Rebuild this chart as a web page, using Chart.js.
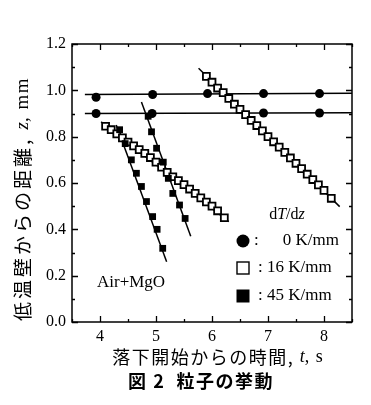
<!DOCTYPE html>
<html>
<head>
<meta charset="utf-8">
<script src="https://cdn.jsdelivr.net/npm/chart.js@4.4.0/dist/chart.umd.min.js"></script>
<style>
  html, body { margin: 0; padding: 0; background: #fff; }
</style>
</head>
<body>
<canvas id="myChart" width="371" height="405"></canvas>
<script>
// axis ticks
const xTicks = [4, 5, 6, 7, 8];
const xMinorTicks = [3.5, 4.5, 5.5, 6.5, 7.5, 8.5];
const yTicks = [0, 0.2, 0.4, 0.6, 0.8, 1.0, 1.2];
const yMinorTicks = [0.1, 0.3, 0.5, 0.7, 0.9, 1.1];

// dT/dz = 0 K/mm (two particles)
const t0a = [3.93, 4.94, 5.92, 6.92, 7.92];
const z0a = [0.970, 0.982, 0.986, 0.986, 0.986];
const t0b = [3.93, 4.93, 6.92, 7.92];
const z0b = [0.900, 0.900, 0.902, 0.902];
const fit0aT = [3.73, 8.5], fit0aZ = [0.982, 0.987];
const fit0bT = [3.73, 8.5], fit0bZ = [0.900, 0.903];

// dT/dz = 16 K/mm
const t16a = [4.1, 4.2, 4.3, 4.4, 4.5, 4.6, 4.7, 4.8, 4.9, 5.0, 5.1, 5.2, 5.3, 5.4, 5.5, 5.6, 5.7, 5.8, 5.9, 6.0, 6.1, 6.22];
const z16a = [0.845, 0.830, 0.812, 0.795, 0.777, 0.760, 0.744, 0.728, 0.710, 0.690, 0.668, 0.646, 0.627, 0.610, 0.593, 0.574, 0.555, 0.536, 0.518, 0.500, 0.480, 0.450];
const fit16aT = [4.02, 6.30], fit16aZ = [0.864, 0.433];
const t16b = [5.9, 6.0, 6.1, 6.2, 6.3, 6.4, 6.5, 6.6, 6.7, 6.8, 6.9, 7.0, 7.1, 7.2, 7.3, 7.4, 7.5, 7.6, 7.7, 7.8, 7.9, 8.0, 8.13];
const z16b = [1.060, 1.035, 1.010, 0.990, 0.965, 0.940, 0.918, 0.895, 0.870, 0.848, 0.825, 0.800, 0.778, 0.755, 0.732, 0.708, 0.685, 0.662, 0.638, 0.615, 0.592, 0.568, 0.534];
const fit16bT = [5.76, 8.28], fit16bZ = [1.095, 0.498];

// dT/dz = 45 K/mm
const t45a = [4.35, 4.45, 4.56, 4.65, 4.74, 4.83, 4.94, 5.02, 5.12];
const z45a = [0.830, 0.770, 0.700, 0.642, 0.585, 0.520, 0.455, 0.400, 0.318];
const fit45aT = [4.29, 5.19], fit45aZ = [0.85, 0.26];
const t45b = [4.86, 4.92, 5.01, 5.13, 5.22, 5.30, 5.42, 5.52];
const z45b = [0.888, 0.821, 0.750, 0.690, 0.620, 0.555, 0.505, 0.447];
const fit45bT = [4.74, 5.62], fit45bZ = [0.95, 0.37];

const pts = (t, z) => t.map((v, i) => ({ x: v, y: z[i] }));

const lineSet = (t, z) => ({
    data: pts(t, z), showLine: true, pointRadius: 0,
    borderColor: '#000', borderWidth: 1.5, order: 10
});
const circleSet = (t, z) => ({
    data: pts(t, z), pointStyle: 'circle', pointRadius: 4.5,
    backgroundColor: '#000', borderColor: '#000', borderWidth: 0, order: 1
});
const openSet = (t, z) => ({
    data: pts(t, z), pointStyle: 'rect', pointRadius: 4.9,
    backgroundColor: '#fff', borderColor: '#000', borderWidth: 1.8, order: 5
});
const filledSet = (t, z) => ({
    data: pts(t, z), pointStyle: 'rect', pointRadius: 4.8,
    backgroundColor: '#000', borderColor: '#000', borderWidth: 0, order: 3
});

const SERIF = '"Liberation Serif", "DejaVu Serif", serif';
const JP = '"Noto Sans CJK JP", sans-serif';

// draws frame, inward ticks, axis titles, legend and note
const decor = {
    id: 'decor',
    afterDraw(chart) {
        const ctx = chart.ctx;
        const a = chart.chartArea;
        const xs = chart.scales.x, ys = chart.scales.y;
        ctx.save();
        ctx.strokeStyle = '#000';
        ctx.lineWidth = 1.5;
        ctx.strokeRect(a.left, a.top, a.right - a.left, a.bottom - a.top);
        ctx.lineWidth = 1.3;
        ctx.beginPath();
        const tickX = (v, len) => {
            const p = Math.round(xs.getPixelForValue(v)) + 0.5;
            ctx.moveTo(p, a.bottom); ctx.lineTo(p, a.bottom - len);
            ctx.moveTo(p, a.top); ctx.lineTo(p, a.top + len);
        };
        const tickY = (v, len) => {
            const p = Math.round(ys.getPixelForValue(v)) + 0.5;
            ctx.moveTo(a.left, p); ctx.lineTo(a.left + len, p);
            ctx.moveTo(a.right, p); ctx.lineTo(a.right - len, p);
        };
        xTicks.forEach(v => tickX(v, 6));
        xMinorTicks.forEach(v => tickX(v, 3));
        yTicks.forEach(v => tickY(v, 6));
        yMinorTicks.forEach(v => tickY(v, 3));
        ctx.stroke();

        ctx.fillStyle = '#000';
        ctx.textBaseline = 'middle';

        // x axis title
        const xParts = [['落下開始からの時間, ', '18px ' + JP, '1.5px'], ['t', 'italic 18px ' + SERIF, '0px'], [', s', '18px ' + SERIF, '1px']];
        drawParts(ctx, xParts, (a.left + a.right) / 2 + 6, 357);

        // caption
        drawParts(ctx, [['図 2  粒子の挙動', 'bold 18px ' + JP, '1.5px']], 201, 381);

        // y axis title (rotated)
        ctx.save();
        ctx.translate(23, 199);
        ctx.rotate(-Math.PI / 2);
        const yParts = [['低温壁からの距離, ', '19px ' + JP, '3px'], ['z', 'italic 19px ' + SERIF, '0px'], [', mm', '19px ' + SERIF, '1.5px']];
        drawParts(ctx, yParts, 0, 0);
        ctx.restore();

        // legend
        const lx = 243;
        drawParts(ctx, [['d', '16px ' + SERIF, '0px'], ['T', 'italic 16px ' + SERIF, '0px'], ['/d', '16px ' + SERIF, '0px'], ['z', 'italic 16px ' + SERIF, '0px']], 287, 215);
        ctx.beginPath();
        ctx.arc(lx, 241, 6.5, 0, Math.PI * 2);
        ctx.fill();
        ctx.lineWidth = 1.4;
        ctx.strokeRect(lx - 6, 262, 12, 12);
        ctx.fillRect(lx - 6.5, 289.5, 13, 13);
        ctx.font = '17px ' + SERIF;
        ctx.textAlign = 'left';
        ctx.fillText(':', 254, 241);
        ctx.fillText(': 16 K/mm', 258, 268);
        ctx.fillText(': 45 K/mm', 258, 296);
        ctx.textAlign = 'right';
        ctx.fillText('0 K/mm', 339, 241);

        ctx.textAlign = 'left';
        ctx.fillText('Air+MgO', 97, 283);
        ctx.restore();
    }
};

function drawParts(ctx, parts, cx, cy) {
    let total = 0;
    parts.forEach(p => { ctx.font = p[1]; ctx.letterSpacing = p[2]; total += ctx.measureText(p[0]).width; });
    let x = cx - total / 2;
    ctx.textAlign = 'left';
    parts.forEach(p => {
        ctx.font = p[1]; ctx.letterSpacing = p[2];
        ctx.fillText(p[0], x, cy);
        x += ctx.measureText(p[0]).width;
    });
    ctx.letterSpacing = '0px';
}

const ctx = document.getElementById('myChart').getContext('2d');
const myChart = new Chart(ctx, {
    type: 'scatter',
    data: {
        datasets: [
            lineSet(fit0aT, fit0aZ), lineSet(fit0bT, fit0bZ),
            lineSet(fit16aT, fit16aZ), lineSet(fit16bT, fit16bZ),
            lineSet(fit45aT, fit45aZ), lineSet(fit45bT, fit45bZ),
            circleSet(t0a, z0a), circleSet(t0b, z0b),
            openSet(t16a, z16a), openSet(t16b, z16b),
            filledSet(t45a, z45a), filledSet(t45b, z45b)
        ]
    },
    options: {
        responsive: false,
        animation: false,
        devicePixelRatio: 1,
        layout: { padding: { left: 0, right: 19, top: 44, bottom: 0 } },
        plugins: { legend: { display: false }, tooltip: { enabled: false } },
        scales: {
            x: {
                type: 'linear', min: 3.5, max: 8.5,
                afterBuildTicks: s => { s.ticks = xTicks.map(v => ({ value: v })); },
                afterFit: s => { s.height = 83; },
                grid: { display: false, drawTicks: false },
                border: { display: false },
                ticks: { padding: 5, color: '#000', font: { family: SERIF, size: 16 }, maxRotation: 0 }
            },
            y: {
                type: 'linear', min: 0, max: 1.2,
                afterBuildTicks: s => { s.ticks = yTicks.map(v => ({ value: v })); },
                afterFit: s => { s.width = 72; },
                grid: { display: false, drawTicks: false },
                border: { display: false },
                ticks: { padding: 6, color: '#000', font: { family: SERIF, size: 16 },
                         callback: v => v.toFixed(1) }
            }
        }
    },
    plugins: [decor]
});
</script>
</body>
</html>
